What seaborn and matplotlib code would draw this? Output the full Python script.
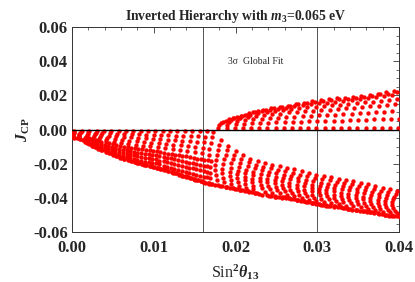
import pandas as pd
import matplotlib
matplotlib.use("Agg")
import matplotlib.pyplot as plt
import seaborn as sns
from matplotlib.ticker import MultipleLocator, FormatStrFormatter

# lower branch (J_CP < 0): one list of points per arc
lower_x = [
    [0.0003, 0.0002, 0.0002, 0.0001, 0.0001, 0.0001],
    [0.0012, 0.0011, 0.0010, 0.0009, 0.0009, 0.0008, 0.0008, 0.0008],
    [0.0021, 0.0020, 0.0019, 0.0018, 0.0017, 0.0016, 0.0016, 0.0016, 0.0016],
    [0.0030, 0.0029, 0.0028, 0.0027, 0.0026, 0.0025, 0.0024, 0.0024, 0.0024, 0.0024],
    [0.0039, 0.0037, 0.0036, 0.0034, 0.0033, 0.0032, 0.0031, 0.0031, 0.0031, 0.0032],
    [0.0048, 0.0046, 0.0045, 0.0043, 0.0042, 0.0041, 0.0040, 0.0040, 0.0040, 0.0041],
    [0.0057, 0.0055, 0.0054, 0.0052, 0.0051, 0.0050, 0.0049, 0.0049, 0.0049, 0.0050],
    [0.0066, 0.0064, 0.0063, 0.0061, 0.0060, 0.0059, 0.0058, 0.0058, 0.0058, 0.0059],
    [0.0075, 0.0073, 0.0072, 0.0070, 0.0069, 0.0068, 0.0067, 0.0067, 0.0067, 0.0068],
    [0.0084, 0.0082, 0.0081, 0.0079, 0.0078, 0.0077, 0.0076, 0.0076, 0.0076, 0.0077],
    [0.0093, 0.0091, 0.0090, 0.0088, 0.0087, 0.0086, 0.0085, 0.0085, 0.0085, 0.0086],
    [0.0102, 0.0100, 0.0099, 0.0097, 0.0096, 0.0095, 0.0094, 0.0094, 0.0094, 0.0095],
    [0.0111, 0.0109, 0.0108, 0.0106, 0.0105, 0.0104, 0.0103, 0.0103, 0.0103, 0.0104],
    [0.0120, 0.0118, 0.0117, 0.0115, 0.0114, 0.0113, 0.0112, 0.0112, 0.0112, 0.0113],
    [0.0129, 0.0127, 0.0126, 0.0124, 0.0123, 0.0122, 0.0121, 0.0121, 0.0121, 0.0122],
    [0.0138, 0.0136, 0.0135, 0.0133, 0.0132, 0.0131, 0.0130, 0.0130, 0.0130, 0.0131],
    [0.0147, 0.0145, 0.0144, 0.0142, 0.0141, 0.0140, 0.0139, 0.0139, 0.0139, 0.0140],
    [0.0156, 0.0154, 0.0153, 0.0151, 0.0150, 0.0149, 0.0148, 0.0148, 0.0148, 0.0149],
    [0.0165, 0.0163, 0.0162, 0.0160, 0.0159, 0.0158, 0.0157, 0.0157, 0.0157, 0.0158],
    [0.0173, 0.0171, 0.0170, 0.0168, 0.0167, 0.0166, 0.0165, 0.0165, 0.0165, 0.0166],
    [0.0182, 0.0180, 0.0179, 0.0177, 0.0176, 0.0175, 0.0175, 0.0176, 0.0177, 0.0179],
    [0.0191, 0.0189, 0.0188, 0.0186, 0.0185, 0.0184, 0.0184, 0.0185, 0.0186, 0.0188],
    [0.0200, 0.0198, 0.0197, 0.0195, 0.0194, 0.0193, 0.0193, 0.0194, 0.0195, 0.0197],
    [0.0209, 0.0207, 0.0206, 0.0204, 0.0203, 0.0202, 0.0202, 0.0203, 0.0204, 0.0206],
    [0.0218, 0.0216, 0.0215, 0.0213, 0.0212, 0.0211, 0.0211, 0.0212, 0.0213, 0.0215],
    [0.0227, 0.0225, 0.0224, 0.0222, 0.0221, 0.0220, 0.0220, 0.0221, 0.0222, 0.0224],
    [0.0236, 0.0234, 0.0232, 0.0231, 0.0230, 0.0230, 0.0231, 0.0233, 0.0236, 0.0239],
    [0.0245, 0.0243, 0.0241, 0.0240, 0.0239, 0.0239, 0.0240, 0.0242, 0.0245, 0.0248],
    [0.0254, 0.0252, 0.0250, 0.0249, 0.0248, 0.0248, 0.0249, 0.0251, 0.0254, 0.0257],
    [0.0263, 0.0261, 0.0259, 0.0258, 0.0257, 0.0257, 0.0258, 0.0260, 0.0263, 0.0266],
    [0.0272, 0.0270, 0.0268, 0.0267, 0.0266, 0.0266, 0.0267, 0.0269, 0.0272, 0.0275],
    [0.0281, 0.0279, 0.0277, 0.0276, 0.0275, 0.0275, 0.0276, 0.0278, 0.0281, 0.0284],
    [0.0290, 0.0288, 0.0286, 0.0285, 0.0284, 0.0284, 0.0285, 0.0287, 0.0290, 0.0293],
    [0.0299, 0.0297, 0.0295, 0.0294, 0.0293, 0.0293, 0.0294, 0.0296, 0.0299, 0.0302],
    [0.0308, 0.0306, 0.0304, 0.0303, 0.0302, 0.0302, 0.0303, 0.0305, 0.0308, 0.0311],
    [0.0317, 0.0315, 0.0313, 0.0312, 0.0311, 0.0311, 0.0312, 0.0314, 0.0317, 0.0320],
    [0.0326, 0.0324, 0.0322, 0.0321, 0.0320, 0.0320, 0.0321, 0.0323, 0.0326, 0.0329],
    [0.0335, 0.0333, 0.0331, 0.0330, 0.0329, 0.0329, 0.0330, 0.0332, 0.0335, 0.0338],
    [0.0344, 0.0342, 0.0340, 0.0339, 0.0338, 0.0338, 0.0339, 0.0341, 0.0344, 0.0347],
    [0.0353, 0.0351, 0.0349, 0.0348, 0.0347, 0.0347, 0.0348, 0.0350, 0.0353, 0.0356],
    [0.0362, 0.0360, 0.0358, 0.0357, 0.0356, 0.0356, 0.0357, 0.0359, 0.0362, 0.0365],
    [0.0371, 0.0369, 0.0367, 0.0366, 0.0365, 0.0365, 0.0366, 0.0368, 0.0371, 0.0374],
    [0.0380, 0.0378, 0.0376, 0.0375, 0.0374, 0.0374, 0.0375, 0.0377, 0.0380, 0.0383],
    [0.0389, 0.0387, 0.0385, 0.0384, 0.0383, 0.0383, 0.0384, 0.0386, 0.0389, 0.0392],
    [0.0398, 0.0396, 0.0394, 0.0393, 0.0392, 0.0392, 0.0393, 0.0395, 0.0398, 0.0401],
]
lower_y = [
    [-0.0008, -0.0015, -0.0022, -0.0029, -0.0036, -0.0043],
    [-0.0008, -0.0014, -0.0021, -0.0027, -0.0033, -0.0040, -0.0046, -0.0052],
    [-0.0008, -0.0016, -0.0025, -0.0033, -0.0042, -0.0050, -0.0058, -0.0067, -0.0075],
    [-0.0008, -0.0018, -0.0027, -0.0037, -0.0047, -0.0056, -0.0066, -0.0076, -0.0085, -0.0095],
    [-0.0008, -0.0019, -0.0031, -0.0042, -0.0054, -0.0065, -0.0076, -0.0088, -0.0099, -0.0111],
    [-0.0008, -0.0021, -0.0035, -0.0048, -0.0062, -0.0075, -0.0088, -0.0102, -0.0115, -0.0129],
    [-0.0008, -0.0023, -0.0039, -0.0054, -0.0070, -0.0085, -0.0100, -0.0116, -0.0131, -0.0147],
    [-0.0008, -0.0025, -0.0043, -0.0060, -0.0078, -0.0095, -0.0112, -0.0130, -0.0147, -0.0165],
    [-0.0008, -0.0027, -0.0045, -0.0064, -0.0082, -0.0101, -0.0119, -0.0138, -0.0156, -0.0175],
    [-0.0008, -0.0028, -0.0048, -0.0069, -0.0089, -0.0109, -0.0129, -0.0149, -0.0170, -0.0190],
    [-0.0008, -0.0030, -0.0051, -0.0073, -0.0094, -0.0116, -0.0138, -0.0159, -0.0181, -0.0202],
    [-0.0008, -0.0031, -0.0053, -0.0076, -0.0098, -0.0121, -0.0143, -0.0166, -0.0188, -0.0211],
    [-0.0008, -0.0032, -0.0056, -0.0079, -0.0103, -0.0127, -0.0151, -0.0175, -0.0198, -0.0222],
    [-0.0008, -0.0033, -0.0059, -0.0084, -0.0109, -0.0135, -0.0160, -0.0185, -0.0211, -0.0236],
    [-0.0008, -0.0035, -0.0062, -0.0088, -0.0115, -0.0142, -0.0169, -0.0196, -0.0222, -0.0249],
    [-0.0008, -0.0036, -0.0065, -0.0093, -0.0121, -0.0150, -0.0178, -0.0206, -0.0235, -0.0263],
    [-0.0008, -0.0038, -0.0068, -0.0097, -0.0127, -0.0157, -0.0187, -0.0217, -0.0246, -0.0276],
    [-0.0008, -0.0039, -0.0071, -0.0102, -0.0133, -0.0165, -0.0196, -0.0227, -0.0259, -0.0290],
    [-0.0008, -0.0041, -0.0074, -0.0106, -0.0139, -0.0172, -0.0205, -0.0238, -0.0270, -0.0303],
    [-0.0012, -0.0045, -0.0079, -0.0112, -0.0146, -0.0179, -0.0212, -0.0246, -0.0279, -0.0313],
    [-0.0060, -0.0089, -0.0119, -0.0148, -0.0178, -0.0207, -0.0236, -0.0266, -0.0295, -0.0325],
    [-0.0095, -0.0122, -0.0148, -0.0175, -0.0201, -0.0228, -0.0254, -0.0281, -0.0307, -0.0334],
    [-0.0125, -0.0149, -0.0173, -0.0198, -0.0222, -0.0246, -0.0270, -0.0295, -0.0319, -0.0343],
    [-0.0150, -0.0172, -0.0195, -0.0217, -0.0240, -0.0262, -0.0285, -0.0307, -0.0330, -0.0352],
    [-0.0170, -0.0191, -0.0212, -0.0234, -0.0255, -0.0276, -0.0297, -0.0319, -0.0340, -0.0361],
    [-0.0185, -0.0206, -0.0226, -0.0247, -0.0267, -0.0288, -0.0308, -0.0329, -0.0349, -0.0370],
    [-0.0197, -0.0218, -0.0239, -0.0260, -0.0281, -0.0302, -0.0322, -0.0343, -0.0364, -0.0385],
    [-0.0207, -0.0227, -0.0248, -0.0268, -0.0288, -0.0309, -0.0329, -0.0349, -0.0370, -0.0390],
    [-0.0215, -0.0235, -0.0255, -0.0275, -0.0295, -0.0314, -0.0334, -0.0354, -0.0374, -0.0394],
    [-0.0223, -0.0243, -0.0263, -0.0283, -0.0303, -0.0322, -0.0342, -0.0362, -0.0382, -0.0402],
    [-0.0232, -0.0252, -0.0272, -0.0292, -0.0312, -0.0331, -0.0351, -0.0371, -0.0391, -0.0411],
    [-0.0245, -0.0264, -0.0284, -0.0303, -0.0323, -0.0342, -0.0362, -0.0381, -0.0401, -0.0420],
    [-0.0255, -0.0274, -0.0294, -0.0313, -0.0332, -0.0352, -0.0371, -0.0390, -0.0410, -0.0429],
    [-0.0265, -0.0284, -0.0303, -0.0322, -0.0341, -0.0361, -0.0380, -0.0399, -0.0418, -0.0437],
    [-0.0272, -0.0291, -0.0310, -0.0329, -0.0348, -0.0366, -0.0385, -0.0404, -0.0423, -0.0442],
    [-0.0280, -0.0298, -0.0317, -0.0335, -0.0354, -0.0372, -0.0391, -0.0409, -0.0428, -0.0446],
    [-0.0287, -0.0306, -0.0324, -0.0343, -0.0362, -0.0380, -0.0399, -0.0418, -0.0436, -0.0455],
    [-0.0293, -0.0312, -0.0331, -0.0350, -0.0369, -0.0388, -0.0407, -0.0426, -0.0445, -0.0464],
    [-0.0300, -0.0319, -0.0338, -0.0356, -0.0375, -0.0394, -0.0413, -0.0432, -0.0450, -0.0469],
    [-0.0310, -0.0328, -0.0346, -0.0365, -0.0383, -0.0401, -0.0419, -0.0437, -0.0456, -0.0474],
    [-0.0320, -0.0338, -0.0356, -0.0374, -0.0392, -0.0409, -0.0427, -0.0445, -0.0463, -0.0481],
    [-0.0330, -0.0348, -0.0366, -0.0383, -0.0401, -0.0419, -0.0437, -0.0454, -0.0472, -0.0490],
    [-0.0340, -0.0358, -0.0375, -0.0393, -0.0410, -0.0428, -0.0445, -0.0463, -0.0480, -0.0498],
    [-0.0350, -0.0367, -0.0384, -0.0401, -0.0418, -0.0434, -0.0451, -0.0468, -0.0485, -0.0502],
    [-0.0360, -0.0376, -0.0393, -0.0409, -0.0425, -0.0442, -0.0458, -0.0474, -0.0491, -0.0507],
]

# dense band along the lower edge: tail of each lower arc
tail_x = [
    [0.0003, 0.0006, 0.0010], [0.0010, 0.0013, 0.0017], [0.0018, 0.0021, 0.0025],
    [0.0026, 0.0029, 0.0033], [0.0034, 0.0037, 0.0041], [0.0043, 0.0046, 0.0050],
    [0.0052, 0.0055, 0.0059], [0.0061, 0.0064, 0.0068], [0.0070, 0.0073, 0.0077],
    [0.0079, 0.0082, 0.0086], [0.0088, 0.0091, 0.0095], [0.0097, 0.0100, 0.0104],
    [0.0106, 0.0109, 0.0113], [0.0115, 0.0118, 0.0122], [0.0124, 0.0127, 0.0131],
    [0.0133, 0.0136, 0.0140], [0.0142, 0.0145, 0.0149], [0.0151, 0.0154, 0.0158],
    [0.0160, 0.0163, 0.0167], [0.0168, 0.0171, 0.0175], [0.0181, 0.0184, 0.0188],
    [0.0190, 0.0193, 0.0197], [0.0199, 0.0202, 0.0206], [0.0208, 0.0211, 0.0215],
    [0.0217, 0.0220, 0.0224], [0.0226, 0.0229, 0.0233], [0.0241, 0.0244, 0.0248],
    [0.0250, 0.0253, 0.0257], [0.0259, 0.0262, 0.0266], [0.0268, 0.0271, 0.0275],
    [0.0277, 0.0280, 0.0284], [0.0286, 0.0289, 0.0293], [0.0295, 0.0298, 0.0302],
    [0.0304, 0.0307, 0.0311], [0.0313, 0.0316, 0.0320], [0.0322, 0.0325, 0.0329],
    [0.0331, 0.0334, 0.0338], [0.0340, 0.0343, 0.0347], [0.0349, 0.0352, 0.0356],
    [0.0358, 0.0361, 0.0365], [0.0367, 0.0370, 0.0374], [0.0376, 0.0379, 0.0383],
    [0.0385, 0.0388, 0.0392], [0.0394, 0.0397, 0.0401],
]
tail_y = [
    [-0.0047, -0.0051, -0.0055], [-0.0056, -0.0061, -0.0066], [-0.0079, -0.0084, -0.0089],
    [-0.0099, -0.0103, -0.0108], [-0.0115, -0.0119, -0.0124], [-0.0133, -0.0137, -0.0142],
    [-0.0151, -0.0155, -0.0160], [-0.0168, -0.0172, -0.0176], [-0.0179, -0.0183, -0.0187],
    [-0.0193, -0.0197, -0.0201], [-0.0205, -0.0209, -0.0213], [-0.0214, -0.0218, -0.0222],
    [-0.0225, -0.0229, -0.0233], [-0.0239, -0.0243, -0.0247], [-0.0252, -0.0256, -0.0260],
    [-0.0266, -0.0270, -0.0274], [-0.0279, -0.0283, -0.0287], [-0.0293, -0.0297, -0.0301],
    [-0.0306, -0.0310, -0.0314], [-0.0316, -0.0320, -0.0324], [-0.0328, -0.0331, -0.0335],
    [-0.0337, -0.0340, -0.0344], [-0.0346, -0.0349, -0.0353], [-0.0355, -0.0358, -0.0362],
    [-0.0364, -0.0367, -0.0371], [-0.0373, -0.0376, -0.0380], [-0.0388, -0.0391, -0.0394],
    [-0.0393, -0.0396, -0.0399], [-0.0397, -0.0400, -0.0403], [-0.0405, -0.0408, -0.0411],
    [-0.0414, -0.0417, -0.0420], [-0.0423, -0.0426, -0.0429], [-0.0432, -0.0435, -0.0438],
    [-0.0440, -0.0443, -0.0446], [-0.0445, -0.0448, -0.0451], [-0.0449, -0.0452, -0.0455],
    [-0.0458, -0.0461, -0.0464], [-0.0467, -0.0470, -0.0473], [-0.0472, -0.0475, -0.0478],
    [-0.0477, -0.0480, -0.0483], [-0.0484, -0.0487, -0.0490], [-0.0493, -0.0496, -0.0499],
    [-0.0501, -0.0504, -0.0507], [-0.0505, -0.0508, -0.0511],
]

# in-between dots that fill the lower half of the left arcs (sin^2 < 0.017)
fill_x = [
    [0.0021, 0.0020, 0.0020, 0.0020, 0.0020], [0.0029, 0.0028, 0.0028, 0.0028, 0.0028],
    [0.0036, 0.0035, 0.0035, 0.0035, 0.0036], [0.0045, 0.0044, 0.0044, 0.0044, 0.0045],
    [0.0054, 0.0053, 0.0053, 0.0053, 0.0054], [0.0063, 0.0062, 0.0062, 0.0062, 0.0063],
    [0.0072, 0.0071, 0.0071, 0.0071, 0.0072], [0.0081, 0.0080, 0.0080, 0.0080, 0.0081],
    [0.0090, 0.0089, 0.0089, 0.0089, 0.0090], [0.0099, 0.0098, 0.0098, 0.0098, 0.0099],
    [0.0108, 0.0107, 0.0107, 0.0107, 0.0108], [0.0117, 0.0116, 0.0116, 0.0116, 0.0117],
    [0.0126, 0.0125, 0.0125, 0.0125, 0.0126], [0.0135, 0.0134, 0.0134, 0.0134, 0.0135],
    [0.0144, 0.0143, 0.0143, 0.0143, 0.0144], [0.0153, 0.0152, 0.0152, 0.0152, 0.0153],
    [0.0162, 0.0161, 0.0161, 0.0161, 0.0162], [0.0170, 0.0169, 0.0169, 0.0169, 0.0170],
]
fill_y = [
    [-0.0048, -0.0056, -0.0064, -0.0073, -0.0081], [-0.0062, -0.0072, -0.0082, -0.0091, -0.0101],
    [-0.0071, -0.0082, -0.0094, -0.0105, -0.0117], [-0.0081, -0.0094, -0.0108, -0.0121, -0.0135],
    [-0.0091, -0.0106, -0.0122, -0.0137, -0.0153], [-0.0101, -0.0118, -0.0136, -0.0153, -0.0171],
    [-0.0107, -0.0125, -0.0144, -0.0162, -0.0181], [-0.0115, -0.0135, -0.0155, -0.0176, -0.0196],
    [-0.0122, -0.0144, -0.0165, -0.0187, -0.0208], [-0.0127, -0.0149, -0.0172, -0.0194, -0.0217],
    [-0.0133, -0.0157, -0.0181, -0.0204, -0.0228], [-0.0141, -0.0166, -0.0191, -0.0217, -0.0242],
    [-0.0148, -0.0175, -0.0202, -0.0228, -0.0255], [-0.0156, -0.0184, -0.0212, -0.0241, -0.0269],
    [-0.0163, -0.0193, -0.0223, -0.0252, -0.0282], [-0.0171, -0.0202, -0.0233, -0.0265, -0.0296],
    [-0.0178, -0.0211, -0.0244, -0.0276, -0.0309], [-0.0185, -0.0218, -0.0252, -0.0285, -0.0319],
]

# upper branch (J_CP > 0), starts just after sin^2 = 0.018
upper_x = [
    [0.0179, 0.0180, 0.0182, 0.0185, 0.0188, 0.0192, 0.0197, 0.0204],
    [0.0189, 0.0190, 0.0192, 0.0195, 0.0198, 0.0202, 0.0207, 0.0214],
    [0.0199, 0.0200, 0.0202, 0.0205, 0.0208, 0.0212, 0.0217, 0.0224],
    [0.0209, 0.0210, 0.0212, 0.0215, 0.0218, 0.0222, 0.0227, 0.0234],
    [0.0219, 0.0220, 0.0222, 0.0225, 0.0228, 0.0232, 0.0237, 0.0244],
    [0.0229, 0.0230, 0.0232, 0.0235, 0.0238, 0.0242, 0.0247, 0.0254],
    [0.0239, 0.0240, 0.0242, 0.0245, 0.0248, 0.0252, 0.0257, 0.0264],
    [0.0249, 0.0250, 0.0252, 0.0255, 0.0258, 0.0262, 0.0267, 0.0274],
    [0.0259, 0.0260, 0.0262, 0.0265, 0.0268, 0.0272, 0.0277, 0.0284],
    [0.0269, 0.0270, 0.0272, 0.0275, 0.0278, 0.0282, 0.0287, 0.0294],
    [0.0279, 0.0280, 0.0282, 0.0285, 0.0288, 0.0292, 0.0297, 0.0304],
    [0.0289, 0.0290, 0.0292, 0.0295, 0.0298, 0.0302, 0.0307, 0.0314],
    [0.0299, 0.0300, 0.0302, 0.0305, 0.0308, 0.0312, 0.0317, 0.0324],
    [0.0309, 0.0310, 0.0312, 0.0315, 0.0318, 0.0322, 0.0327, 0.0334],
    [0.0319, 0.0320, 0.0322, 0.0325, 0.0328, 0.0332, 0.0337, 0.0344],
    [0.0329, 0.0330, 0.0332, 0.0335, 0.0338, 0.0342, 0.0347, 0.0354],
    [0.0339, 0.0340, 0.0342, 0.0345, 0.0348, 0.0352, 0.0357, 0.0364],
    [0.0349, 0.0350, 0.0352, 0.0355, 0.0358, 0.0362, 0.0367, 0.0374],
    [0.0359, 0.0360, 0.0362, 0.0365, 0.0368, 0.0372, 0.0377, 0.0384],
    [0.0369, 0.0370, 0.0372, 0.0375, 0.0378, 0.0382, 0.0387, 0.0394],
    [0.0379, 0.0380, 0.0382, 0.0385, 0.0388, 0.0392, 0.0397],
    [0.0389, 0.0390, 0.0392, 0.0395, 0.0398],
    [0.0399, 0.0400],
]
upper_y = [
    [0.0012, 0.0024, 0.0036, 0.0046, 0.0053, 0.0060, 0.0065, 0.0068],
    [0.0012, 0.0028, 0.0043, 0.0056, 0.0067, 0.0076, 0.0082, 0.0086],
    [0.0012, 0.0031, 0.0049, 0.0065, 0.0077, 0.0088, 0.0095, 0.0100],
    [0.0012, 0.0034, 0.0055, 0.0073, 0.0087, 0.0100, 0.0108, 0.0114],
    [0.0012, 0.0037, 0.0059, 0.0079, 0.0095, 0.0108, 0.0117, 0.0124],
    [0.0012, 0.0038, 0.0062, 0.0084, 0.0101, 0.0115, 0.0125, 0.0132],
    [0.0012, 0.0040, 0.0066, 0.0089, 0.0107, 0.0122, 0.0132, 0.0140],
    [0.0012, 0.0042, 0.0069, 0.0094, 0.0113, 0.0129, 0.0140, 0.0148],
    [0.0012, 0.0044, 0.0073, 0.0100, 0.0120, 0.0138, 0.0149, 0.0158],
    [0.0012, 0.0046, 0.0076, 0.0104, 0.0125, 0.0144, 0.0156, 0.0165],
    [0.0012, 0.0047, 0.0079, 0.0108, 0.0130, 0.0150, 0.0162, 0.0172],
    [0.0012, 0.0048, 0.0081, 0.0111, 0.0134, 0.0154, 0.0167, 0.0177],
    [0.0012, 0.0049, 0.0083, 0.0114, 0.0138, 0.0158, 0.0172, 0.0182],
    [0.0012, 0.0051, 0.0086, 0.0117, 0.0142, 0.0163, 0.0177, 0.0187],
    [0.0012, 0.0052, 0.0088, 0.0120, 0.0145, 0.0167, 0.0181, 0.0192],
    [0.0012, 0.0053, 0.0090, 0.0124, 0.0150, 0.0172, 0.0187, 0.0198],
    [0.0012, 0.0054, 0.0093, 0.0127, 0.0154, 0.0177, 0.0192, 0.0204],
    [0.0012, 0.0056, 0.0096, 0.0131, 0.0159, 0.0183, 0.0199, 0.0211],
    [0.0012, 0.0057, 0.0099, 0.0136, 0.0164, 0.0189, 0.0206, 0.0218],
    [0.0012, 0.0059, 0.0101, 0.0139, 0.0169, 0.0194, 0.0211, 0.0224],
    [0.0012, 0.0060, 0.0104, 0.0143, 0.0174, 0.0200, 0.0218],
    [0.0012, 0.0062, 0.0107, 0.0148, 0.0179],
    [0.0012, 0.0063],
]

fit_lo, fit_hi = 0.016, 0.030   # 3 sigma range of sin^2(theta13)

rows = []
all_x = lower_x + tail_x + fill_x + upper_x
all_y = lower_y + tail_y + fill_y + upper_y
for xs, ys in zip(all_x, all_y):
    rows += list(zip(xs, ys))
df = pd.DataFrame(rows, columns=["s13sq", "jcp"])

sns.set_style("white")
plt.rcParams["font.family"] = ["Liberation Serif", "DejaVu Serif"]
plt.rcParams["font.weight"] = "bold"
plt.rcParams["mathtext.fontset"] = "custom"
plt.rcParams["mathtext.rm"] = "Liberation Serif:bold"
plt.rcParams["mathtext.it"] = "Liberation Serif:italic:bold"
plt.rcParams["mathtext.bf"] = "Liberation Serif:bold"

fig = plt.figure(figsize=(4.15, 2.82), dpi=100)
ax = fig.add_axes([0.1735, 0.177, 0.788, 0.727])

sns.scatterplot(data=df, x="s13sq", y="jcp", color="red", s=10,
                linewidth=0, ax=ax, legend=False, zorder=3)

ax.axhline(0, color="black", lw=1.0, zorder=4)
ax.axvline(fit_lo, color="#555555", lw=0.7, zorder=2)
ax.axvline(fit_hi, color="#555555", lw=0.7, zorder=2)
ax.text(0.0225, 0.04, "3σ  Global Fit", fontsize=7, fontweight="normal",
        ha="center", va="center")

ax.set_xlim(0, 0.04)
ax.set_ylim(-0.06, 0.06)
ax.xaxis.set_major_locator(MultipleLocator(0.01))
ax.xaxis.set_minor_locator(MultipleLocator(0.002))
ax.yaxis.set_major_locator(MultipleLocator(0.02))
ax.yaxis.set_minor_locator(MultipleLocator(0.005))
ax.xaxis.set_major_formatter(FormatStrFormatter("%.2f"))
ax.yaxis.set_major_formatter(FormatStrFormatter("%.2f"))
ax.tick_params(which="both", direction="in", top=True, right=True,
               color="#333333", labelsize=12)
ax.tick_params(axis="x", pad=6)
ax.tick_params(axis="y", pad=3)
ax.tick_params(which="major", length=4, width=0.6)
ax.tick_params(which="minor", length=2, width=0.5)
for sp in ax.spines.values():
    sp.set_color("#333333")
    sp.set_linewidth(0.7)

ax.set_title("Inverted Hierarchy with $m_3$=0.065 eV", fontsize=9.8,
             fontweight="bold", pad=5)
ax.set_xlabel(r"Sin$^2\theta_{13}$", fontsize=11.5, labelpad=4)
ax.set_ylabel(r"$J_{\rm CP}$", fontsize=11.5, labelpad=1)

fig.savefig("out.png", dpi=100)
